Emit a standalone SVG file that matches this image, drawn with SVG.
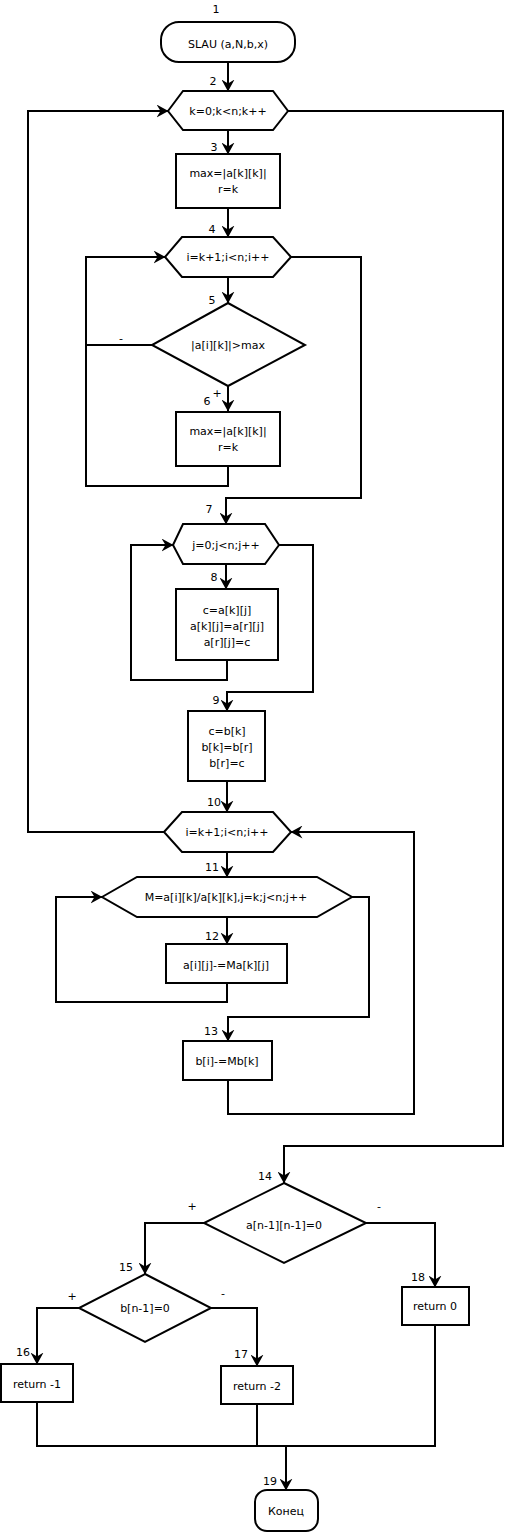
<svg xmlns="http://www.w3.org/2000/svg" width="506" height="1533" viewBox="0 0 506 1533">
<defs>
<marker id="arr" markerUnits="userSpaceOnUse" markerWidth="12" markerHeight="13" viewBox="0 0 12 13" refX="11.5" refY="6.5" orient="auto">
<path d="M0,0 L12,6.5 L0,13 L4,6.5 z" fill="#000"/>
</marker>
</defs>
<style>
.n{fill:#fff;stroke:#000;stroke-width:2}
.c{fill:none;stroke:#000;stroke-width:2}
.a{marker-end:url(#arr)}
text{font-family:"DejaVu Sans",sans-serif;font-size:11px;fill:#000}
.t{text-anchor:middle}
.l{text-anchor:middle}
</style>
<rect width="506" height="1533" fill="#fff"/>
<g id="connectors">
<path class="c a" d="M228,62 V91"/>
<path class="c a" d="M228,130 V154"/>
<path class="c a" d="M228,208 V237"/>
<path class="c a" d="M228,277 V303"/>
<path class="c a" d="M228,386 V411"/>
<path class="c a" d="M228,466 V486 H86 V257 H165"/>
<path class="c" d="M152,345 H86"/>
<path class="c a" d="M291,257 H361 V498 H226 V524"/>
<path class="c a" d="M226,564 V589"/>
<path class="c a" d="M227,660 V680 H131 V545 H173"/>
<path class="c a" d="M279,545 H313 V692 H227 V711"/>
<path class="c a" d="M227,781 V812"/>
<path class="c a" d="M227,852 V877"/>
<path class="c a" d="M164,832 H28 V111 H168"/>
<path class="c a" d="M227,917 V944"/>
<path class="c a" d="M227,983 V1002 H56 V897 H102"/>
<path class="c a" d="M352,897 H369 V1017 H228 V1041"/>
<path class="c a" d="M228,1080 V1114 H414 V832 H291"/>
<path class="c a" d="M288,111 H503 V1146 H284 V1183"/>
<path class="c a" d="M204,1223 H145 V1274"/>
<path class="c a" d="M366,1223 H435 V1287"/>
<path class="c a" d="M79,1308 H37 V1364"/>
<path class="c a" d="M211,1308 H257 V1366"/>
<path class="c" d="M37,1402 V1446 H435 V1325"/>
<path class="c" d="M257,1404 V1446"/>
<path class="c a" d="M286,1446 V1490"/>
<text x="121" y="342" class="l">-</text>
<text x="217" y="397" class="l">+</text>
<text x="192" y="1210" class="l">+</text>
<text x="379" y="1210" class="l">-</text>
<text x="72" y="1300" class="l">+</text>
<text x="223" y="1297" class="l">-</text>
</g>
<g id="n1">
<rect class="n" x="161" y="22" width="134" height="40" rx="18"/>
<text x="228" y="48" class="t">SLAU (a,N,b,x)</text>
<text x="216" y="13" class="l">1</text>
</g>
<g id="n2">
<polygon class="n" points="168,111 183,91 273,91 288,111 273,130 183,130"/>
<text x="228" y="115" class="t">k=0;k&lt;n;k++</text>
<text x="213" y="85" class="l">2</text>
</g>
<g id="n3">
<rect class="n" x="176" y="154" width="104" height="54"/>
<text x="228" y="177" class="t">max=|a[k][k]|</text>
<text x="228" y="193" class="t">r=k</text>
<text x="214" y="151" class="l">3</text>
</g>
<g id="n4">
<polygon class="n" points="165,257 182,237 273,237 291,257 273,277 182,277"/>
<text x="228" y="261" class="t">i=k+1;i&lt;n;i++</text>
<text x="212" y="233" class="l">4</text>
</g>
<g id="n5">
<polygon class="n" points="228,303 305,345 228,386 152,345"/>
<text x="228" y="349" class="t">|a[i][k]|&gt;max</text>
<text x="212" y="304" class="l">5</text>
</g>
<g id="n6">
<rect class="n" x="176" y="412" width="104" height="54"/>
<text x="228" y="435" class="t">max=|a[k][k]|</text>
<text x="228" y="451" class="t">r=k</text>
<text x="207" y="405" class="l">6</text>
</g>
<g id="n7">
<polygon class="n" points="173,545 183,524 265,524 279,545 265,564 183,564"/>
<text x="226" y="549" class="t">j=0;j&lt;n;j++</text>
<text x="209" y="513" class="l">7</text>
</g>
<g id="n8">
<rect class="n" x="176" y="589" width="102" height="71"/>
<text x="227" y="614" class="t">c=a[k][j]</text>
<text x="227" y="630" class="t">a[k][j]=a[r][j]</text>
<text x="227" y="646" class="t">a[r][j]=c</text>
<text x="214" y="581" class="l">8</text>
</g>
<g id="n9">
<rect class="n" x="188" y="711" width="77" height="70"/>
<text x="227" y="735" class="t">c=b[k]</text>
<text x="227" y="751" class="t">b[k]=b[r]</text>
<text x="227" y="767" class="t">b[r]=c</text>
<text x="216" y="704" class="l">9</text>
</g>
<g id="n10">
<polygon class="n" points="164,832 182,812 273,812 291,832 273,852 182,852"/>
<text x="227" y="836" class="t">i=k+1;i&lt;n;i++</text>
<text x="214" y="806" class="l">10</text>
</g>
<g id="n11">
<polygon class="n" points="102,897 137,877 317,877 352,897 317,917 137,917"/>
<text x="226" y="901" class="t">M=a[i][k]/a[k][k],j=k;j&lt;n;j++</text>
<text x="212" y="871" class="l">11</text>
</g>
<g id="n12">
<rect class="n" x="166" y="944" width="121" height="39"/>
<text x="226" y="969" class="t">a[i][j]-=Ma[k][j]</text>
<text x="212" y="940" class="l">12</text>
</g>
<g id="n13">
<rect class="n" x="183" y="1041" width="89" height="39"/>
<text x="227" y="1065" class="t">b[i]-=Mb[k]</text>
<text x="211" y="1035" class="l">13</text>
</g>
<g id="n14">
<polygon class="n" points="284,1183 366,1223 284,1263 204,1223"/>
<text x="284" y="1229" class="t">a[n-1][n-1]=0</text>
<text x="265" y="1180" class="l">14</text>
</g>
<g id="n15">
<polygon class="n" points="145,1274 211,1308 145,1342 79,1308"/>
<text x="145" y="1312" class="t">b[n-1]=0</text>
<text x="126" y="1271" class="l">15</text>
</g>
<g id="n16">
<rect class="n" x="1" y="1364" width="72" height="38"/>
<text x="37" y="1388" class="t">return -1</text>
<text x="23" y="1356" class="l">16</text>
</g>
<g id="n17">
<rect class="n" x="221" y="1366" width="72" height="38"/>
<text x="257" y="1390" class="t">return -2</text>
<text x="241" y="1358" class="l">17</text>
</g>
<g id="n18">
<rect class="n" x="402" y="1287" width="67" height="38"/>
<text x="435" y="1310" class="t">return 0</text>
<text x="418" y="1281" class="l">18</text>
</g>
<g id="n19">
<rect class="n" x="255" y="1490" width="63" height="41" rx="12"/>
<text x="286" y="1515" class="t">Конец</text>
<text x="270" y="1485" class="l">19</text>
</g>
</svg>
